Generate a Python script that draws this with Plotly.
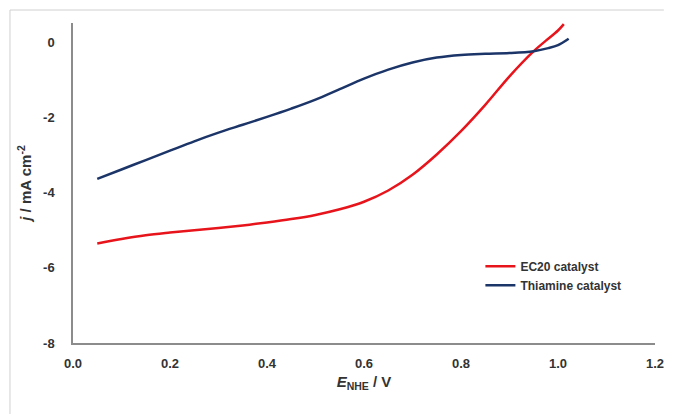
import plotly.graph_objects as go

# EC20 catalyst
ec20_x = [0.05, 0.10, 0.15, 0.20, 0.25, 0.30, 0.35, 0.40, 0.45, 0.50, 0.55, 0.60,
          0.65, 0.70, 0.75, 0.80, 0.85, 0.90, 0.95, 0.975, 1.00, 1.012]
ec20_y = [-5.35, -5.23, -5.13, -5.06, -5.00, -4.94, -4.87, -4.79, -4.70, -4.59, -4.44, -4.24,
          -3.94, -3.52, -2.98, -2.36, -1.66, -0.90, -0.23, 0.05, 0.32, 0.49]

# Thiamine catalyst
thia_x = [0.05, 0.10, 0.15, 0.20, 0.25, 0.30, 0.35, 0.40, 0.45, 0.50, 0.55, 0.60,
          0.65, 0.70, 0.75, 0.80, 0.85, 0.90, 0.95, 0.98, 1.00, 1.022]
thia_y = [-3.63, -3.38, -3.13, -2.88, -2.63, -2.40, -2.19, -1.98, -1.76, -1.52, -1.24, -0.96,
          -0.72, -0.53, -0.40, -0.33, -0.30, -0.28, -0.23, -0.15, -0.07, 0.10]

x_ticks = [0.0, 0.2, 0.4, 0.6, 0.8, 1.0, 1.2]
x_tick_labels = ["0.0", "0.2", "0.4", "0.6", "0.8", "1.0", "1.2"]
y_ticks = [-8, -6, -4, -2, 0]
y_tick_labels = ["-8", "-6", "-4", "-2", "0"]

FONT = "Liberation Sans, Arial, sans-serif"
TXT = "#333333"

fig = go.Figure()
fig.add_trace(go.Scatter(x=ec20_x, y=ec20_y, mode="lines", name="EC20 catalyst",
                         line=dict(color="#E8141C", width=2.5, shape="spline", smoothing=1.0)))
fig.add_trace(go.Scatter(x=thia_x, y=thia_y, mode="lines", name="Thiamine catalyst",
                         line=dict(color="#1C3569", width=2.5, shape="spline", smoothing=1.0)))

fig.update_layout(
    width=673, height=414,
    margin=dict(l=73, r=9, t=23, b=71),
    paper_bgcolor="white", plot_bgcolor="white",
    font=dict(family=FONT, color=TXT, size=12),
    showlegend=True,
    legend=dict(x=0.70, y=0.285, xanchor="left", yanchor="top",
                font=dict(family=FONT, size=12, color=TXT, weight="bold"),
                bgcolor="rgba(0,0,0,0)", itemwidth=30, tracegroupgap=0),
    shapes=[
        dict(type="line", xref="paper", yref="paper",
             x0=-64/591, y0=-71/320, x1=-64/591, y1=(343-10)/320,
             line=dict(color="#D0D0D0", width=1)),
        dict(type="line", xref="paper", yref="paper",
             x0=-64/591, y0=(343-10)/320, x1=(673-73)/591, y1=(343-10)/320,
             line=dict(color="#D0D0D0", width=1)),
    ],
)

fig.update_xaxes(
    range=[0, 1.2], tickvals=x_ticks, ticktext=x_tick_labels,
    showgrid=False, zeroline=False, showline=True, linecolor="#8C8C8C", linewidth=1.5,
    ticks="", ticklabelstandoff=8, ticklabeloverflow="allow",
    tickfont=dict(family=FONT, size=13, color=TXT, weight="bold"),
    title=dict(text="<i>E</i><sub>NHE</sub> / V", standoff=6,
               font=dict(family=FONT, size=15, color=TXT, weight="bold")),
)
fig.update_yaxes(
    range=[-8, 0.52], tickvals=y_ticks, ticktext=y_tick_labels,
    showgrid=False, zeroline=False, showline=True, linecolor="#8C8C8C", linewidth=1.5,
    ticks="", ticklabelstandoff=14, ticklabeloverflow="allow",
    tickfont=dict(family=FONT, size=13, color=TXT, weight="bold"),
    title=dict(text="<i>j</i> / mA cm<sup>-2</sup>", standoff=8,
               font=dict(family=FONT, size=15, color=TXT, weight="bold")),
)

fig.write_html("out.html")
